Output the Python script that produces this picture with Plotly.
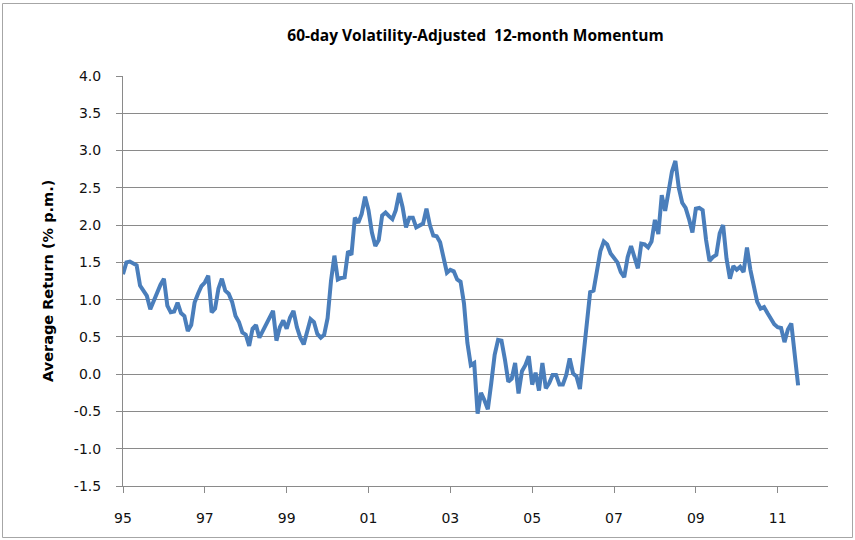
import plotly.graph_objects as go

start_year = 1995
values = [
    # 1995
    1.34, 1.50, 1.51, 1.48, 1.46, 1.19, 1.12, 1.05, 0.87, 0.98, 1.12, 1.20,
    # 1996
    1.28, 0.92, 0.83, 0.84, 0.96, 0.82, 0.78, 0.58, 0.66, 0.96, 1.08, 1.18,
    # 1997
    1.23, 1.32, 0.83, 0.88, 1.15, 1.28, 1.12, 1.08, 0.97, 0.78, 0.70, 0.56,
    # 1998
    0.53, 0.38, 0.61, 0.66, 0.49, 0.58, 0.65, 0.76, 0.85, 0.45, 0.63, 0.72,
    # 1999
    0.61, 0.76, 0.85, 0.63, 0.49, 0.40, 0.58, 0.74, 0.70, 0.54, 0.49, 0.53,
    # 2000
    0.75, 1.25, 1.59, 1.27, 1.29, 1.30, 1.65, 1.60, 2.10, 2.03, 2.15, 2.38,
    # 2001
    2.20, 1.90, 1.72, 1.80, 2.13, 2.17, 2.12, 2.08, 2.20, 2.43, 2.24, 1.97,
    # 2002
    2.10, 2.10, 1.97, 2.00, 2.02, 2.22, 2.00, 1.86, 1.85, 1.77, 1.55, 1.36,
    # 2003
    1.40, 1.38, 1.27, 1.24, 0.95, 0.42, 0.12, 0.15, -0.53, -0.25, -0.35, -0.47,
    # 2004
    -0.12, 0.26, 0.46, 0.45, 0.20, -0.10, -0.06, 0.15, -0.26, 0.04, 0.12, 0.24,
    # 2005
    -0.14, 0.02, -0.22, 0.15, -0.19, -0.12, -0.01, -0.01, -0.14, -0.14, -0.01, 0.21,
    # 2006
    0.01, -0.03, -0.20, 0.28, 0.75, 1.10, 1.12, 1.40, 1.65, 1.78, 1.74, 1.62,
    # 2007
    1.56, 1.50, 1.37, 1.30, 1.57, 1.72, 1.57, 1.42, 1.75, 1.74, 1.70, 1.78,
    # 2008
    2.07, 1.88, 2.40, 2.19, 2.45, 2.72, 2.86, 2.50, 2.30, 2.23, 2.08, 1.90,
    # 2009
    2.22, 2.23, 2.20, 1.80, 1.52, 1.57, 1.60, 1.89, 2.00, 1.55, 1.28, 1.45,
    # 2010
    1.40, 1.44, 1.37, 1.70, 1.40, 1.17, 0.97, 0.88, 0.90, 0.82, 0.74, 0.67,
    # 2011
    0.63, 0.62, 0.43, 0.60, 0.68, 0.25, -0.15,
]
dates = [start_year + i / 12 for i in range(len(values))]

x_tick_vals = [1995, 1997, 1999, 2001, 2003, 2005, 2007, 2009, 2011]
x_tick_text = ["95", "97", "99", "01", "03", "05", "07", "09", "11"]
y_tick_vals = [4.0, 3.5, 3.0, 2.5, 2.0, 1.5, 1.0, 0.5, 0.0, -0.5, -1.0, -1.5]
y_tick_text = ["4.0", "3.5", "3.0", "2.5", "2.0", "1.5", "1.0", "0.5", "0.0", "-0.5", "-1.0", "-1.5"]

title_text = "60-day Volatility-Adjusted  12-month Momentum"
y_title = "Average Return (% p.m.)"

W, H = 855, 540
L, R, T, B = 123, 27, 76, 54
pw, ph = W - L - R, H - T - B

fig = go.Figure()
fig.add_trace(go.Scatter(x=dates, y=values, mode="lines",
                         line=dict(color="#4a7ebb", width=4), hoverinfo="skip"))

grid = "#8a8a8a"
tick_font = dict(family="DejaVu Sans", size=14, color="#111111")
fig.update_layout(
    width=W, height=H,
    margin=dict(l=L, r=R, t=T, b=B, autoexpand=False),
    paper_bgcolor="white", plot_bgcolor="white",
    showlegend=False,
    title=dict(text=title_text, x=0.5 * (L + (W - R)) / W, xanchor="center",
               y=1 - 36 / H, yanchor="middle",
               font=dict(family="Open Sans, sans-serif", size=15.5, weight="bold", color="#000000")),
    xaxis=dict(range=[1995, 2012.23], tickvals=x_tick_vals, ticktext=x_tick_text,
               showgrid=False, zeroline=False, showline=True, linecolor=grid, linewidth=1,
               ticks="outside", ticklen=6, tickcolor=grid, tickfont=tick_font,
               ticklabelstandoff=13),
    yaxis=dict(range=[-1.5, 4.0], tickvals=y_tick_vals, ticktext=y_tick_text,
               showgrid=True, gridcolor=grid, gridwidth=1, zeroline=False,
               showline=True, linecolor=grid, linewidth=1,
               ticks="outside", ticklen=6, tickcolor=grid, tickfont=tick_font,
               ticklabelstandoff=12),
)
fig.add_annotation(text="<b>" + y_title + "</b>", xref="paper", yref="paper",
                   x=(48 - L) / pw, y=0.5, xanchor="center", yanchor="middle",
                   textangle=-90, showarrow=False,
                   font=dict(family="DejaVu Sans", size=14.5, color="#000000"))
fig.add_shape(type="rect", xref="paper", yref="paper",
              x0=(2.5 - L) / pw, x1=(852.5 - L) / pw,
              y0=(T + ph - 537.5) / ph, y1=(T + ph - 3.5) / ph,
              line=dict(color="#a6a6a6", width=1), fillcolor="rgba(0,0,0,0)", layer="below")
fig.write_html("out.html", config={"displayModeBar": False},
               post_script="document.body.style.margin='0px';")
